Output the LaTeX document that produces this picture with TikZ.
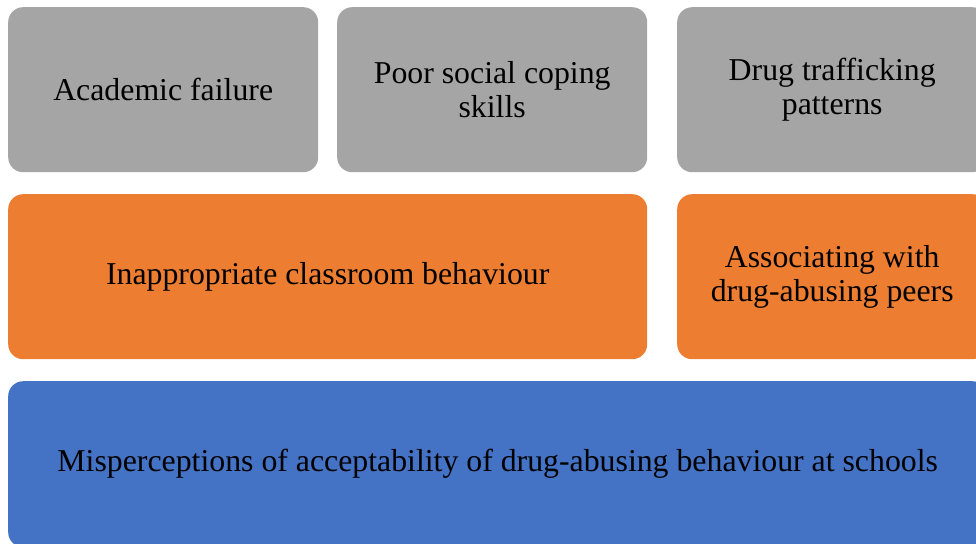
\documentclass[tikz,border=0pt]{standalone}
\usepackage{fontspec}
\setmainfont{Liberation Serif}
\definecolor{boxgray}{HTML}{A5A5A5}
\definecolor{boxorange}{HTML}{ED7D31}
\definecolor{boxblue}{HTML}{4472C4}
\tikzset{
  cell/.style={rounded corners=15pt, inner sep=0pt, align=center, text=black,
    font=\fontsize{31.8}{33.5}\selectfont, anchor=north west},
  graycell/.style={cell, fill=boxgray},
  orangecell/.style={cell, fill=boxorange},
  bluecell/.style={cell, fill=boxblue}
}
\begin{document}
\begin{tikzpicture}[x=1pt,y=-1pt]
\useasboundingbox (0,0) rectangle (976,543);
\clip (0,0) rectangle (976,543);
\node[graycell, minimum width=310pt, minimum height=165pt] (acad) at (8,7) {Academic failure};
\node[graycell, minimum width=310pt, minimum height=165pt] (poor) at (337,7) {Poor social coping\\skills};
\node[graycell, minimum width=310pt, minimum height=165pt] (traf) at (677,7) {Drug trafficking\\patterns};
\node[orangecell, minimum width=639pt, minimum height=165pt] (inapp) at (8,194) {Inappropriate classroom behaviour};
\node[orangecell, minimum width=310pt, minimum height=165pt] (assoc) at (677,194) {Associating with\\drug-abusing peers};
\node[bluecell, minimum width=979pt, minimum height=166pt] (misp) at (8,381) {Misperceptions of acceptability of drug-abusing behaviour at schools};
\end{tikzpicture}
\end{document}
